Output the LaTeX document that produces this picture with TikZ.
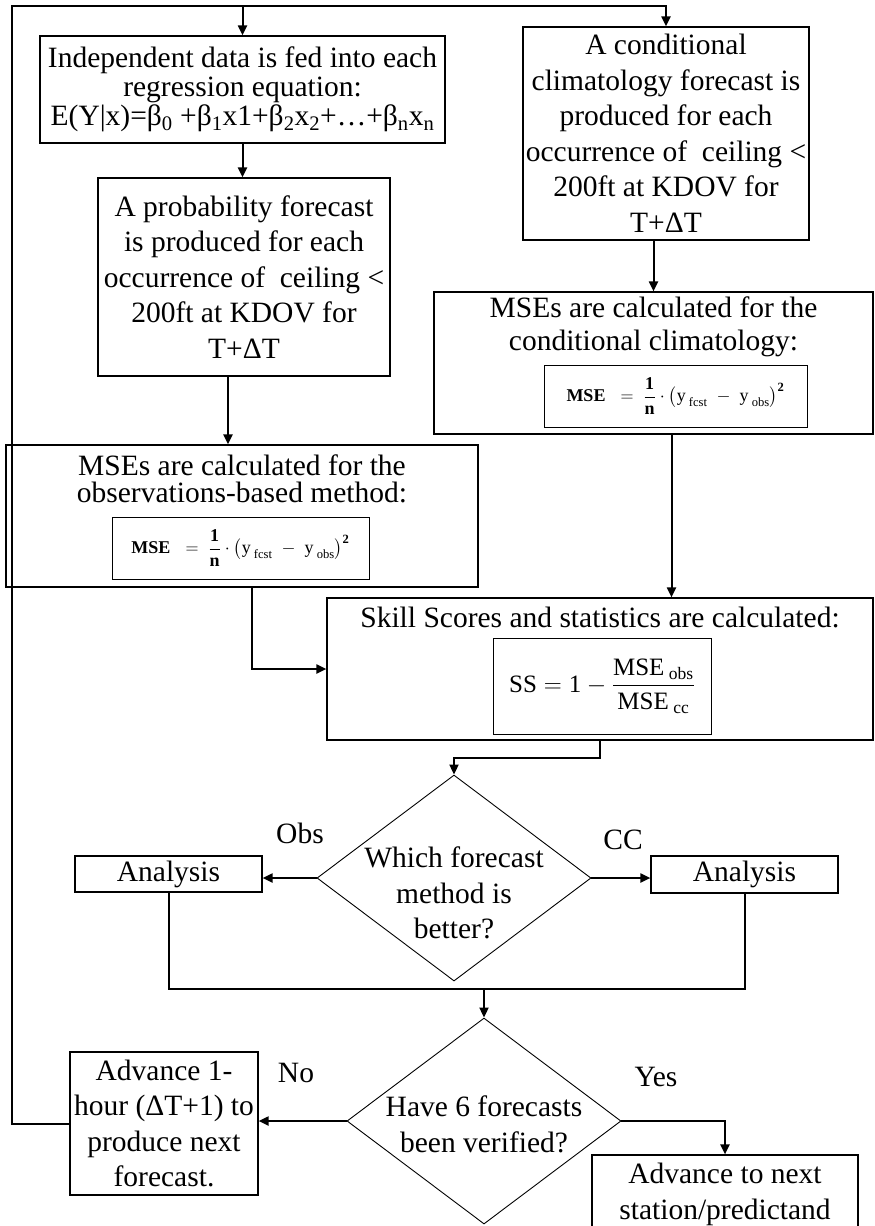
\RequirePackage{fix-cm}
\documentclass[tikz,border=0pt]{standalone}
\usepackage{amsmath}
\usepackage{fontspec}
\setmainfont{Liberation Serif}
\usetikzlibrary{positioning, arrows.meta, shapes.geometric}

\newcommand{\flowfont}{\fontsize{29.5}{35.5}\selectfont}
\newcommand{\formfont}{\fontsize{18}{21}\selectfont}

\tikzset{
  procbox/.style={rectangle, draw, line width=1.2pt, inner sep=0pt, align=center, font=\flowfont},
  formbox/.style={rectangle, draw, line width=0.9pt, inner sep=0pt},
  decision/.style={diamond, draw, line width=0.9pt, inner sep=0pt, minimum width=274pt, minimum height=206pt},
  flowtext/.style={inner sep=0pt, align=center, font=\flowfont},
  conn/.style={line width=2pt, -{Triangle[length=10pt, width=9pt]}},
  joinline/.style={line width=2pt}
}

\begin{document}
\begin{tikzpicture}[x=1pt, y=-1pt]
  \useasboundingbox (0,0) rectangle (875,1226);
  % Left column: observations-based method
  \node[procbox, minimum width=405pt, minimum height=107pt, font=\fontsize{29.5}{29}\selectfont] (indep) at (242.5,89.5)
    {Independent data is fed into each\\ regression equation:\\ E(Y|x)=β\textsubscript{0} +β\textsubscript{1}x1+β\textsubscript{2}x\textsubscript{2}+…+β\textsubscript{n}x\textsubscript{n}};
  \node[procbox, minimum width=292pt, minimum height=198pt] (prob) at (244,277)
    {A probability forecast\\ is produced for each\\ occurrence of\ \ ceiling <\\ 200ft at KDOV for\\ T+ΔT};
  \node[procbox, minimum width=472pt, minimum height=142pt] (mseobs) at (242,516) {};
  \node[flowtext, font=\fontsize{29.5}{27}\selectfont] (mseobstitle) at (242,478.5)
    {MSEs are calculated for the\\ observations-based method:};
  \node[formbox, minimum width=257pt, minimum height=62pt] (mseobsform) at (240.5,548)
    {\formfont $\textbf{MSE}\;\;=\;\dfrac{\textbf{1}}{\textbf{n}}\cdot\bigl(\text{y}_{\text{ fcst}}\;-\;\text{y}_{\text{ obs}}\bigr)^{\textbf{2}}$};

  % Right column: conditional climatology
  \node[procbox, minimum width=286pt, minimum height=213pt] (cond) at (666,133.5)
    {A conditional\\ climatology forecast is\\ produced for each\\ occurrence of\ \ ceiling <\\ 200ft at KDOV for\\ T+ΔT};
  \node[procbox, minimum width=439pt, minimum height=142pt] (ccmse) at (653.5,363) {};
  \node[flowtext, font=\fontsize{29.5}{33}\selectfont] (ccmsetitle) at (653.5,326.5)
    {MSEs are calculated for the\\ conditional climatology:};
  \node[formbox, minimum width=263pt, minimum height=62pt] (ccmseform) at (675.5,396)
    {\formfont $\textbf{MSE}\;\;=\;\dfrac{\textbf{1}}{\textbf{n}}\cdot\bigl(\text{y}_{\text{ fcst}}\;-\;\text{y}_{\text{ obs}}\bigr)^{\textbf{2}}$};

  % Skill scores
  \node[procbox, minimum width=546pt, minimum height=142pt] (skill) at (600,669) {};
  \node[flowtext] (skilltitle) at (600,617) {Skill Scores and statistics are calculated:};
  \node[formbox, minimum width=218pt, minimum height=96pt] (ssform) at (602,686)
    {\fontsize{25}{29}\selectfont $\text{SS} = \text{1} - \dfrac{\text{MSE}_{\text{ obs}}}{\text{MSE}_{\text{ cc}}}$};

  % Which method is better
  \node[decision] (which) at (454,878) {};
  \node[flowtext] (whichtext) at (454,893) {Which forecast\\ method is\\ better?};
  \node[procbox, minimum width=187pt, minimum height=36pt] (anaL) at (168.5,874) {Analysis};
  \node[procbox, minimum width=187pt, minimum height=37pt] (anaR) at (744.5,874.5) {Analysis};
  \node[flowtext] (obslabel) at (300,833) {Obs};
  \node[flowtext] (cclabel) at (623,840) {CC};

  % Have 6 forecasts been verified
  \node[decision] (have) at (484,1121) {};
  \node[flowtext] (havetext) at (484,1124.5) {Have 6 forecasts\\ been verified?};
  \node[procbox, minimum width=188pt, minimum height=143pt] (adv1) at (164,1123.5)
    {Advance 1-\\ hour (ΔT+1) to\\ produce next\\ forecast.};
  \node[procbox, minimum width=266pt, minimum height=79pt] (next) at (725,1194.5)
    {Advance to next\\ station/predictand};
  \node[flowtext] (nolabel) at (296,1073) {No};
  \node[flowtext] (yeslabel) at (656,1077) {Yes};

  % Connectors
  \coordinate (looptop) at (12,6);
  \coordinate (merge) at (484,989);
  \draw[conn] (adv1.west) -| (looptop) -| (cond.north);
  \draw[conn] (indep.north |- looptop) -- (indep.north);
  \draw[conn] (indep.south) -- (indep.south |- prob.north);
  \draw[conn] ([xshift=-16pt]prob.south) -- ([xshift=-16pt]prob.south |- mseobs.north);
  \draw[conn] (ccmse.north |- cond.south) -- (ccmse.north);
  \draw[conn] ([xshift=18pt]ccmse.south) -- ([xshift=18pt]ccmse.south |- skill.north);
  \draw[conn] ([xshift=10pt]mseobs.south) |- (skill.west);
  \draw[conn] (skill.south) -- ++(0,17) -| (which.north);
  \draw[conn] (which.west) -- (which.west -| anaL.east);
  \draw[conn] (which.east) -- (which.east -| anaR.west);
  \draw[joinline] (anaL.south) |- (merge) -| (anaR.south);
  \draw[conn] (merge) -- (have.north);
  \draw[conn] (have.west) -- (have.west -| adv1.east);
  \draw[conn] (have.east) -| (next.north);
\end{tikzpicture}
\end{document}
